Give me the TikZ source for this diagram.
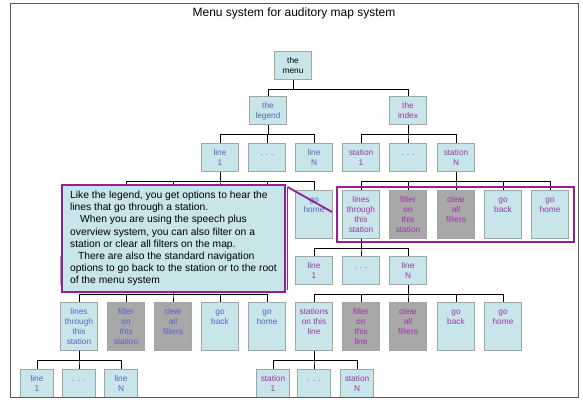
\documentclass[tikz,border=0pt]{standalone}
\usepackage{fontspec}
\setmainfont{Liberation Sans}
\usetikzlibrary{fit}
\definecolor{boxfill}{RGB}{200,230,234}
\definecolor{boxline}{RGB}{160,166,166}
\definecolor{offgrey}{RGB}{168,168,168}
\definecolor{legblue}{RGB}{88,98,200}
\definecolor{idxpurple}{RGB}{158,52,168}
\definecolor{framepurple}{RGB}{150,30,150}
\newcommand{\bxfont}{\fontsize{8.3}{10}\selectfont}
\newcommand{\ntfont}{\fontsize{10.3}{12.2}\selectfont}
% box text hangs from its first line
\newcommand{\boxtext}[1]{\begin{tabular}[t]{@{}c@{}}#1\end{tabular}}
\tikzset{
  box/.style={draw=boxline, line width=1.1pt, fill=boxfill, minimum width=37.5pt, inner sep=2pt,
    font=\bxfont, anchor=north, text height=10pt, text depth=14pt},
  tall/.style={box, text depth=33.5pt},
  small/.style={box, minimum width=33pt},
  off/.style={fill=offgrey},
  leg/.style={text=legblue},
  idx/.style={text=idxpurple},
  tree/.style={to path={(\tikztostart) -- ++(0,9.5) -| (\tikztotarget)}},
}
\begin{document}
\begin{tikzpicture}[x=1pt, y=-1pt]
  \useasboundingbox (0,0) rectangle (583,399);
  \fill[white] (0,0) rectangle (583,399);

  \node[font=\fontsize{12}{14}\selectfont] (title) at (294,13) {Menu system for auditory map system};

  \node[box] (menu) at (293,51) {\boxtext{the\\menu}};
  \node[box,leg] (legend) at (268,96) {\boxtext{the\\legend}};
  \node[box,idx] (index) at (408,96) {\boxtext{the\\index}};

  % legend branch
  \node[box,leg] (l1) at (220,143) {\boxtext{line\\1}};
  \node[box,leg] (ldots) at (267,143) {\boxtext{. . .}};
  \node[box,leg] (lN) at (314,143) {\boxtext{line\\N}};

  \node[tall,leg] (lstat) at (126,190) {};
  \node[tall,off,leg] (lfilt) at (173,190) {};
  \node[tall,off,leg] (lclr) at (220,190) {};
  \node[tall,leg] (lback) at (267,190) {};
  \node[tall,leg] (lhome) at (314,190) {\boxtext{go\\home}};

  \node[box,leg] (ls1) at (79,256) {};
  \node[box,leg] (lsdots) at (126,256) {};
  \node[box,leg] (lsN) at (173,256) {};

  \node[tall,leg] (llts) at (79,302) {\boxtext{lines\\through\\this\\station}};
  \node[tall,off,leg] (lfilt2) at (126,302) {\boxtext{filter\\on\\this\\station}};
  \node[tall,off,leg] (lclr2) at (173,302) {\boxtext{clear\\all\\filters}};
  \node[tall,leg] (lback2) at (220,302) {\boxtext{go\\back}};
  \node[tall,leg] (lhome2) at (267,302) {\boxtext{go\\home}};

  \node[small,leg] (ll1) at (37,369) {\boxtext{line\\1}};
  \node[small,leg] (lldots) at (79,369) {\boxtext{. . .}};
  \node[small,leg] (llN) at (121,369) {\boxtext{line\\N}};

  % index branch
  \node[box,idx] (s1) at (361,143) {\boxtext{station\\1}};
  \node[box,idx] (sdots) at (408,143) {\boxtext{. . .}};
  \node[box,idx] (sN) at (456,143) {\boxtext{station\\N}};

  \node[tall,idx] (its) at (361,190) {\boxtext{lines\\through\\this\\station}};
  \node[tall,off,idx] (ifilt) at (408,190) {\boxtext{filter\\on\\this\\station}};
  \node[tall,off,idx] (iclr) at (456,190) {\boxtext{clear\\all\\filters}};
  \node[tall,idx] (iback) at (503,190) {\boxtext{go\\back}};
  \node[tall,idx] (ihome) at (550,190) {\boxtext{go\\home}};

  \node[box,idx] (il1) at (314,256) {\boxtext{line\\1}};
  \node[box,idx] (ildots) at (361,256) {\boxtext{. . .}};
  \node[box,idx] (ilN) at (408,256) {\boxtext{line\\N}};

  \node[tall,idx] (ison) at (314,302) {\boxtext{stations\\on this\\line}};
  \node[tall,off,idx] (ifilt2) at (361,302) {\boxtext{filter\\on\\this\\line}};
  \node[tall,off,idx] (iclr2) at (408,302) {\boxtext{clear\\all\\filters}};
  \node[tall,idx] (iback2) at (456,302) {\boxtext{go\\back}};
  \node[tall,idx] (ihome2) at (503,302) {\boxtext{go\\home}};

  \node[small,idx] (is1) at (273,369) {\boxtext{station\\1}};
  \node[small,idx] (isdots) at (314,369) {\boxtext{. . .}};
  \node[small,idx] (isN) at (357,369) {\boxtext{station\\N}};

  % connectors
  \draw[line width=0.8pt] (menu.south) edge[tree] (legend.north) edge[tree] (index.north);
  \draw[line width=0.8pt] (legend.south) edge[tree] (l1.north) edge[tree] (ldots.north) edge[tree] (lN.north);
  \draw[line width=0.8pt] (index.south) edge[tree] (s1.north) edge[tree] (sdots.north) edge[tree] (sN.north);
  \draw[line width=0.8pt] (l1.south) edge[tree] (lstat.north) edge[tree] (lfilt.north) edge[tree] (lclr.north)
    edge[tree] (lback.north) edge[tree] (lhome.north);
  \draw[line width=0.8pt] (sN.south) edge[tree] (its.north) edge[tree] (ifilt.north) edge[tree] (iclr.north)
    edge[tree] (iback.north) edge[tree] (ihome.north);
  \draw[line width=0.8pt] (lstat.south) edge[tree] (ls1.north) edge[tree] (lsdots.north) edge[tree] (lsN.north);
  \draw[line width=0.8pt] (its.south) edge[tree] (il1.north) edge[tree] (ildots.north) edge[tree] (ilN.north);
  \draw[line width=0.8pt] (lsN.south) edge[tree] (llts.north) edge[tree] (lfilt2.north) edge[tree] (lclr2.north)
    edge[tree] (lback2.north) edge[tree] (lhome2.north);
  \draw[line width=0.8pt] (ilN.south) edge[tree] (ison.north) edge[tree] (ifilt2.north) edge[tree] (iclr2.north)
    edge[tree] (iback2.north) edge[tree] (ihome2.north);
  \draw[line width=0.8pt] (llts.south) edge[tree] (ll1.north) edge[tree] (lldots.north) edge[tree] (llN.north);
  \draw[line width=0.8pt] (ison.south) edge[tree] (is1.north) edge[tree] (isdots.north) edge[tree] (isN.north);

  % highlighted options
  \node[draw=framepurple, line width=2pt, fit=(its) (ihome), inner xsep=4.5pt, inner ysep=3.5pt] (pick) {};

  % callout
  \node[anchor=north west, fill=boxfill, draw=framepurple, line width=2pt, minimum width=223pt,
    inner xsep=6pt, inner ysep=6pt, minimum height=107pt, align=left, font=\ntfont] (note) at (61,184)
    {Like the legend, you get options to hear the\\lines that go through a station.\\
     \hspace*{10pt}When you are using the speech plus\\overview system, you can also filter on a\\
     station or clear all filters on the map.\\\hspace*{8pt}There are also the standard navigation\\
     options to go back to the station or to the root\\of the menu system};
  \coordinate (bartop) at (287.5,187);
  \coordinate (barbot) at (287.5,290);
  \coordinate (tip) at (332,212);
  \draw[framepurple, line width=1.8pt] (bartop) -- (barbot);
  \draw[framepurple, line width=1.8pt] (bartop) -- (tip);

  \draw[line width=0.9pt, black!65] (10,3) rectangle (578,397);
\end{tikzpicture}
\end{document}
